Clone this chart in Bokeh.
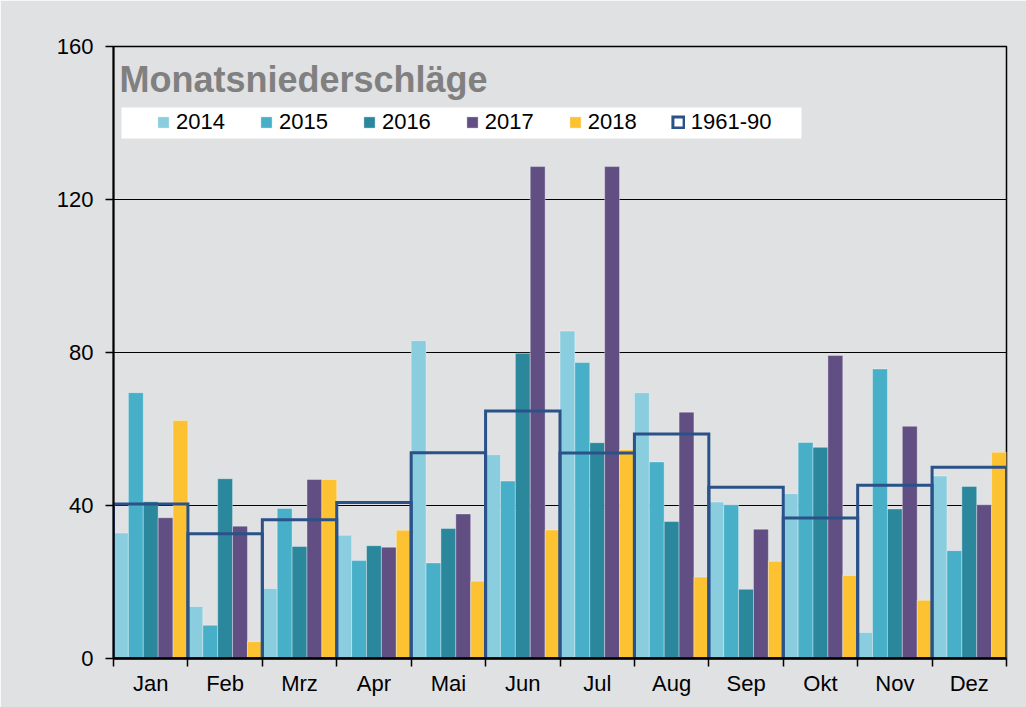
import numpy as np
from math import pi
from bokeh.plotting import figure
from bokeh.models import (Range1d, FixedTicker, Legend, LegendItem, Label,
                          BoxAnnotation, ColumnDataSource)
from bokeh.embed import file_html
from bokeh.resources import INLINE

# ---------------- data ----------------
months = ["Jan", "Feb", "Mrz", "Apr", "Mai", "Jun", "Jul", "Aug", "Sep", "Okt", "Nov", "Dez"]
years = ["2014", "2015", "2016", "2017", "2018"]
p2014 = [32.8, 13.6, 18.3, 32.2, 83.1, 53.3, 85.6, 69.5, 40.9, 43.1, 6.8, 47.7]
p2015 = [69.5, 8.7, 39.2, 25.6, 25.0, 46.4, 77.4, 51.4, 40.2, 56.5, 75.7, 28.2]
p2016 = [41.0, 47.0, 29.3, 29.5, 34.0, 79.8, 56.4, 35.8, 18.1, 55.2, 39.1, 45.0]
p2017 = [36.8, 34.6, 46.8, 29.1, 37.8, 128.6, 128.6, 64.4, 33.8, 79.2, 60.7, 40.2]
p2018 = [62.2, 4.4, 46.8, 33.5, 20.2, 33.6, 54.6, 21.3, 25.4, 21.7, 15.2, 53.9]
normal_label = "1961-90"
normal = [40.4, 32.6, 36.3, 40.8, 53.8, 64.7, 53.7, 58.7, 44.8, 36.7, 45.3, 50.0]
y_ticks = [0, 40, 80, 120, 160]

series = [p2014, p2015, p2016, p2017, p2018]
colors = ["#8ACDDE", "#47AFC8", "#2A879C", "#614E82", "#FCC232"]
normal_color = "#2A5288"
bg = "#E0E1E3"
FONT = "Liberation Sans"

n = len(months)
idx = np.arange(n)
bar_w = 1.0 / len(years)

p = figure(width=1026, height=707, output_backend="svg", toolbar_location=None,
           x_range=Range1d(0, n), y_range=Range1d(0, 160),
           min_border_left=113, min_border_right=20, min_border_top=46,
           min_border_bottom=49)
p.background_fill_color = bg
p.border_fill_color = bg
p.outline_line_color = "black"
p.outline_line_width = 1.5

renderers = []
for k, (yr, vals, col) in enumerate(zip(years, series, colors)):
    src = ColumnDataSource(dict(x=idx + bar_w * (k + 0.5), top=vals))
    r = p.vbar(x="x", top="top", width=bar_w, source=src, fill_color=col,
               line_color="white", line_alpha=0.35, line_width=1)
    renderers.append(r)

nsrc = ColumnDataSource(dict(x=idx + 0.5, top=normal))
rn = p.vbar(x="x", top="top", width=1.0, source=nsrc, fill_alpha=0,
            line_color=normal_color, line_width=3, line_join="miter")

# axes
p.xaxis.ticker = FixedTicker(ticks=list(idx + 0.5), minor_ticks=list(range(n + 1)))
p.xaxis.major_label_overrides = {float(i + 0.5): m for i, m in enumerate(months)}
p.xaxis.major_tick_line_color = None
p.xaxis.major_tick_out = 0
p.xaxis.major_tick_in = 0
p.xaxis.minor_tick_line_color = "black"
p.xaxis.minor_tick_line_width = 1.5
p.xaxis.minor_tick_out = 8
p.xaxis.minor_tick_in = 0
p.xaxis.major_label_standoff = 4
p.xaxis.axis_line_width = 2.5
p.xaxis.axis_line_color = "black"

p.yaxis.ticker = FixedTicker(ticks=y_ticks, minor_ticks=[])
p.yaxis.major_tick_out = 8
p.yaxis.major_tick_in = 0
p.yaxis.major_tick_line_color = "black"
p.yaxis.major_tick_line_width = 1.5
p.yaxis.minor_tick_line_color = None
p.yaxis.major_label_standoff = 12
p.yaxis.axis_line_width = 2
p.yaxis.axis_line_color = "black"

for ax in (p.xaxis[0], p.yaxis[0]):
    ax.major_label_text_font = FONT
    ax.major_label_text_font_size = "22px"
    ax.major_label_text_color = "black"

p.xgrid.grid_line_color = None
p.ygrid.ticker = FixedTicker(ticks=y_ticks)
p.ygrid.grid_line_color = "black"
p.ygrid.grid_line_width = 1

# y axis title
p.add_layout(Label(x=-69, y=294, x_units="screen", y_units="screen",
                   text="Niederschlag in mm", angle=pi / 2,
                   text_align="center", text_baseline="alphabetic",
                   text_font=FONT, text_font_style="bold",
                   text_font_size="23px", text_color="black"))

# chart title
p.add_layout(Label(x=6, y=579, x_units="screen", y_units="screen",
                   text="Monatsniederschläge", text_baseline="alphabetic",
                   text_font=FONT, text_font_style="bold",
                   text_font_size="36px", text_color="#808080"))

# legend background box
p.add_layout(BoxAnnotation(left=8, right=688, top=551, bottom=520,
                           left_units="screen", right_units="screen",
                           top_units="screen", bottom_units="screen",
                           fill_color="white", fill_alpha=1, line_alpha=0))

items = [LegendItem(label=yr, renderers=[r]) for yr, r in zip(years, renderers)]
items.append(LegendItem(label=normal_label, renderers=[rn]))
legend = Legend(items=items, orientation="horizontal", location=(38, 518),
                background_fill_alpha=0, border_line_alpha=0,
                glyph_width=14, glyph_height=14, label_standoff=6, spacing=34,
                padding=5, margin=0, label_text_font=FONT,
                label_text_font_size="22px", label_text_color="black")
p.add_layout(legend)

open("out.html", "w").write(file_html(p, INLINE))
